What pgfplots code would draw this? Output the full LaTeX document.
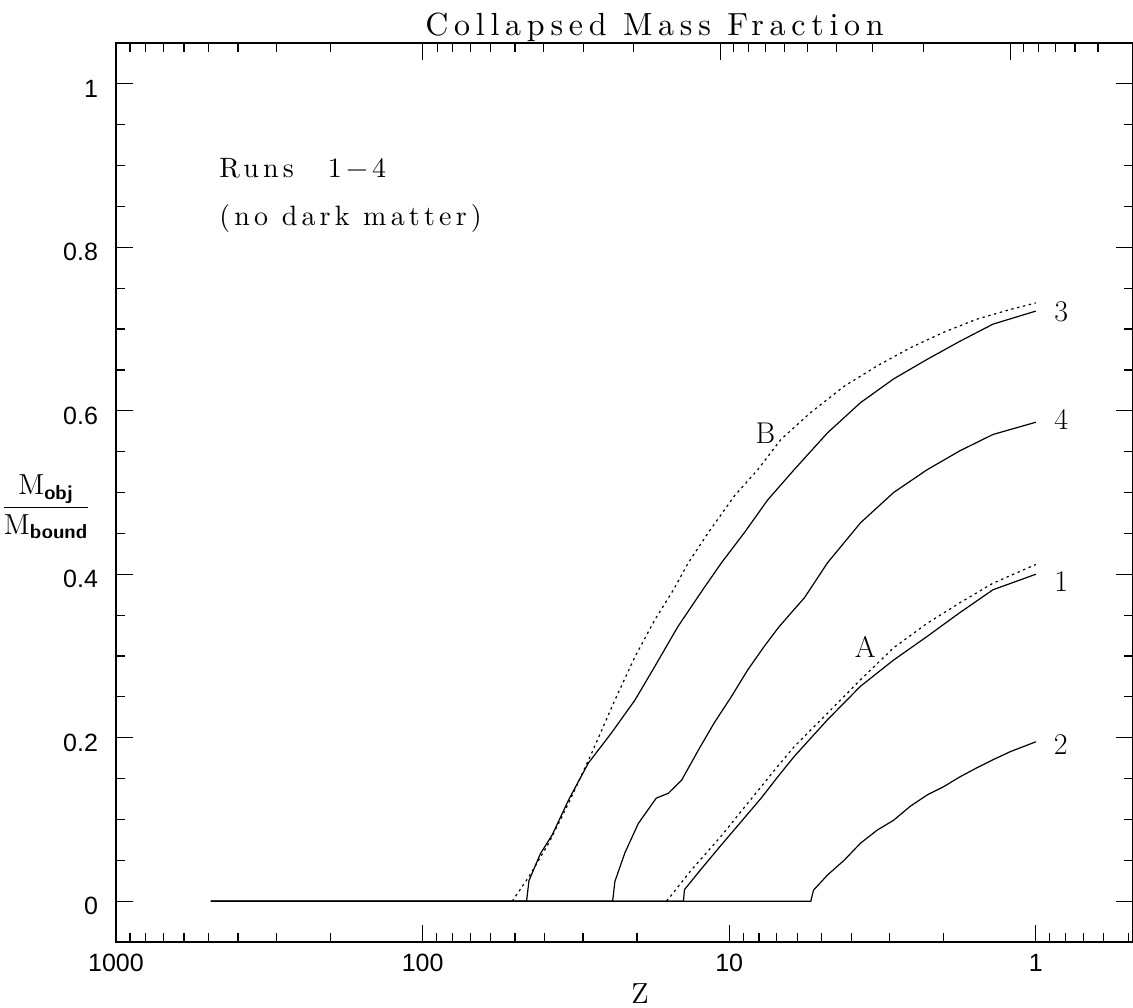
\documentclass[border=0pt]{standalone}
\usepackage{fontspec}
\usepackage{amsmath}
\usepackage{pgfplots}
\pgfplotsset{compat=1.18}
\newfontfamily\tickfont{Liberation Sans}
\newfontfamily\titlefont[LetterSpace=18]{lmroman10-regular.otf}
\newfontfamily\textfontsp[LetterSpace=15]{lmroman10-regular.otf}

\begin{document}
\begin{tikzpicture}[x=0.5pt,y=-0.5pt]
% picture area = 1133 x 1007 units; the frame's right edge sits on the border
\path[use as bounding box, clip] (0,0) rectangle (1133,1007);

% top axis: ticks only (own scale, placed in z coordinates of the bottom axis)
\begin{axis}[
  overlay,
  at={(58pt,-471pt)}, anchor=south west,
  scale only axis, width=508.5pt, height=449.5pt,
  xmode=log, x dir=reverse, xmin=0.482, xmax=1000,
  ymin=-0.05, ymax=1.05,
  axis line style={draw=none},
  ytick=\empty,
  xtick pos=right,
  xtick={100,10.67,1.213},
  xticklabel=\empty,
  minor xtick={0.627,0.745,0.865,0.983,1.10,2.33,3.41,4.47,5.56,6.60,7.62,8.65,9.68,
    20.5,29.8,40.3,50,59.9,69.6,79.7,89.2,200,300,400,500,600,700,800,900},
  major tick length=8.5pt, minor tick length=4.5pt,
  tick style={black, line width=0.6pt},
]
\end{axis}

\begin{axis}[
  overlay,
  at={(58pt,-471pt)}, anchor=south west,
  scale only axis, width=508.5pt, height=449.5pt,
  xmode=log, x dir=reverse, xmin=0.482, xmax=1000,
  ymin=-0.05, ymax=1.05,
  axis line style={line width=0.75pt},
  xtick={1000,100,10,1},
  xticklabels={1000,100,10,1},
  minor xtick={0.5,0.6,0.7,0.8,0.9,2,3,4,5,6,7,8,9,20,30,40,50,60,70,80,90,
    200,300,400,500,600,700,800,900},
  xtick pos=left,
  ytick={0,0.2,0.4,0.6,0.8,1},
  yticklabels={0,0.2,0.4,0.6,0.8,1},
  minor y tick num=3,
  major tick length=8.5pt, minor tick length=4.5pt,
  tick style={black, line width=0.6pt},
  /pgf/number format/assume math mode=true,
  tick label style={font=\tickfont\fontsize{12.5}{14}\selectfont},
  xticklabel style={yshift=-2.5pt},
  yticklabel style={anchor=east, xshift=-5.5pt, yshift=-2.5pt},
  clip=false,
]
% run 3
\addplot[black, line width=0.6pt] coordinates {
  (490,0) (45.8,0) (45.0,0.025) (41.3,0.058) (37.8,0.081) (33.4,0.124)
  (28.8,0.169) (24.2,0.206) (20.3,0.246) (17.5,0.287) (14.7,0.336)
  (12.2,0.381) (10.6,0.414) (8.92,0.451) (7.49,0.491) (6.14,0.528)
  (4.78,0.573) (3.73,0.610) (2.91,0.639) (2.26,0.663) (1.77,0.685)
  (1.38,0.706) (1.0,0.722)
};
% B (dotted)
\addplot[black, line width=0.6pt, dash pattern=on 1.2pt off 1.8pt] coordinates {
  (51.0,0) (45.0,0.030) (38.8,0.071) (33.4,0.120) (28.1,0.181) (23.6,0.246)
  (20.3,0.299) (17.5,0.344) (15.2,0.381) (13.6,0.414) (11.7,0.451)
  (9.61,0.496) (8.07,0.528) (6.78,0.565) (5.42,0.598) (4.22,0.630)
  (3.29,0.655) (2.57,0.677) (2.00,0.696) (1.56,0.712) (1.21,0.724) (1.0,0.732)
};
% run 4
\addplot[black, line width=0.6pt] coordinates {
  (490,0) (24.0,0) (23.6,0.024) (21.9,0.059) (19.8,0.095) (17.3,0.126)
  (15.8,0.132) (14.3,0.148) (12.6,0.185) (11.2,0.218) (9.85,0.250)
  (8.70,0.283) (7.68,0.312) (6.87,0.336) (6.14,0.357) (5.69,0.371)
  (4.78,0.414) (3.73,0.463) (2.91,0.500) (2.26,0.528) (1.77,0.551)
  (1.38,0.571) (1.0,0.586)
};
% A (dotted)
\addplot[black, line width=0.6pt, dash pattern=on 1.2pt off 1.8pt] coordinates {
  (16.0,0) (13.3,0.038) (10.6,0.080) (9.14,0.110) (7.87,0.140) (6.95,0.165)
  (6.14,0.189) (4.78,0.230) (3.73,0.271) (2.91,0.310) (2.26,0.340)
  (1.77,0.365) (1.38,0.389) (1.0,0.412)
};
% run 1
\addplot[black, line width=0.6pt] coordinates {
  (490,0) (14.1,0) (14.0,0.014) (12.3,0.040) (10.6,0.069) (8.92,0.102)
  (7.87,0.126) (6.95,0.152) (6.14,0.177) (4.78,0.222) (3.73,0.263)
  (2.91,0.295) (2.26,0.324) (1.77,0.353) (1.38,0.381) (1.0,0.400)
};
% run 2
\addplot[black, line width=0.6pt] coordinates {
  (490,0) (5.42,0) (5.31,0.0135) (4.78,0.032) (4.22,0.050) (3.73,0.071)
  (3.29,0.087) (2.91,0.099) (2.57,0.116) (2.26,0.130) (2.00,0.140)
  (1.77,0.152) (1.56,0.163) (1.38,0.173) (1.21,0.183) (1.0,0.195)
};
\begin{scope}[font=\fontsize{15}{18}\selectfont]
\node at (axis cs:0.827,0.721) {3};
\node at (axis cs:0.827,0.589) {4};
\node at (axis cs:0.827,0.391) {1};
\node at (axis cs:0.83,0.191) {2};
\node at (axis cs:7.62,0.572) {B};
\node at (axis cs:3.60,0.311) {A};
\end{scope}
\end{axis}

\node[anchor=base, font=\titlefont\fontsize{16}{19}\selectfont]
  at (654.5,35) {Collapsed Mass Fraction};
\node[anchor=base, font=\fontsize{14.5}{17}\selectfont] at (640,1003) {Z};
\begin{scope}[font=\textfontsp\fontsize{14}{17}\selectfont]
\node[anchor=base west, inner sep=0pt] at (219,177) {Runs\hspace{17pt}1−4};
\node[anchor=base west, inner sep=0pt] at (219,225) {(no dark matter)};
\end{scope}
\node[font=\fontsize{14.5}{17}\selectfont] at (46,507)
  {$\displaystyle\frac{\mathrm{M}_{\text{\sffamily\bfseries obj}}}{\mathrm{M}_{\text{\sffamily\bfseries bound}}}$};
\end{tikzpicture}
\end{document}
